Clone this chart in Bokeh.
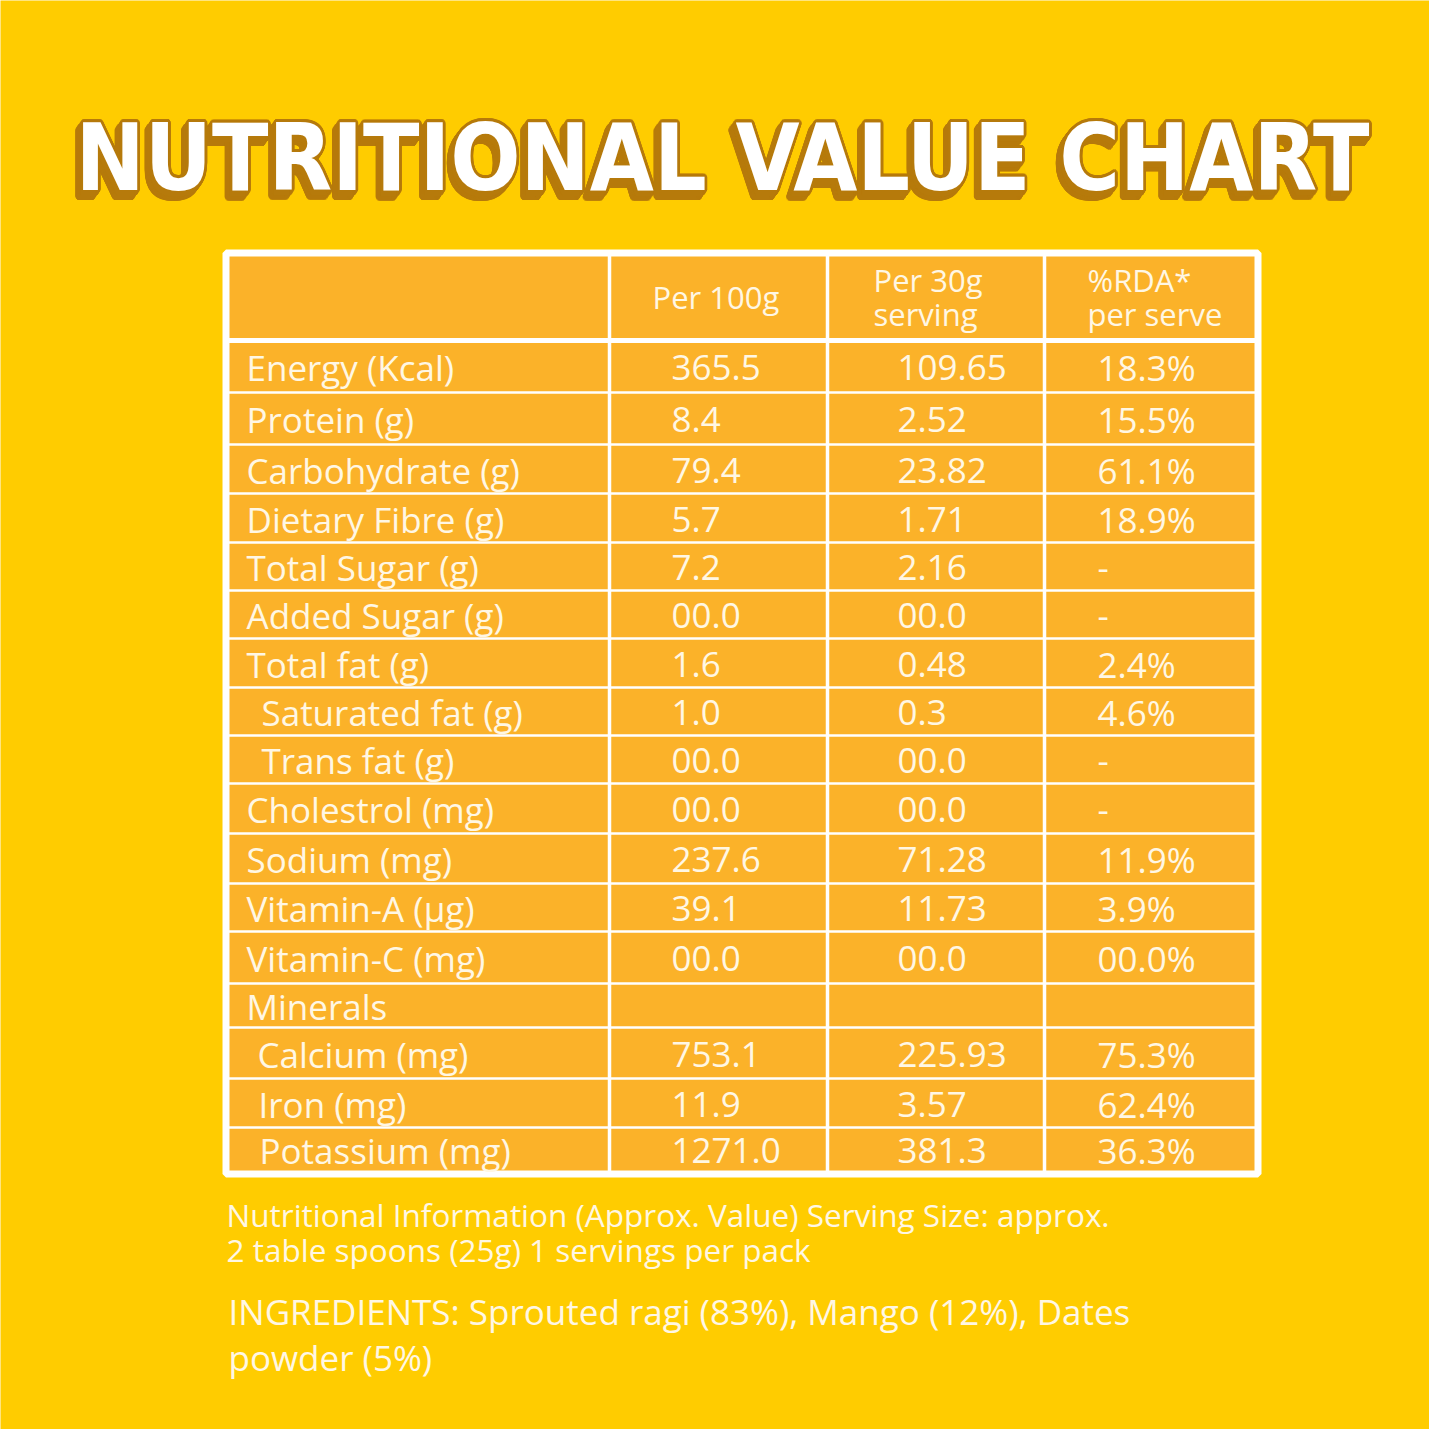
import math
from bokeh.plotting import figure
from bokeh.models import Range1d, ColumnDataSource
from bokeh.core.properties import value
from bokeh.embed import file_html
from bokeh.resources import INLINE

# ---------------- data ----------------
title = "NUTRITIONAL VALUE CHART"
header_col2 = ["Per 100g"]
header_col3 = ["Per 30g", "serving"]
header_col4 = ["%RDA*", "per serve"]

nutrients = ["Energy (Kcal)", "Protein (g)", "Carbohydrate (g)", "Dietary Fibre (g)",
             "Total Sugar (g)", "Added Sugar (g)", "Total fat (g)", "Saturated fat (g)",
             "Trans fat (g)", "Cholestrol (mg)", "Sodium (mg)", "Vitamin-A (µg)",
             "Vitamin-C (mg)", "Minerals", "Calcium (mg)", "Iron (mg)", "Potassium (mg)"]
per_100g = ["365.5", "8.4", "79.4", "5.7", "7.2", "00.0", "1.6", "1.0", "00.0", "00.0",
            "237.6", "39.1", "00.0", "", "753.1", "11.9", "1271.0"]
per_30g = ["109.65", "2.52", "23.82", "1.71", "2.16", "00.0", "0.48", "0.3", "00.0", "00.0",
           "71.28", "11.73", "00.0", "", "225.93", "3.57", "381.3"]
rda = ["18.3%", "15.5%", "61.1%", "18.9%", "-", "-", "2.4%", "4.6%", "-", "-",
       "11.9%", "3.9%", "00.0%", "", "75.3%", "62.4%", "36.3%"]
indented = {"Saturated fat (g)": 15, "Trans fat (g)": 15, "Calcium (mg)": 11,
            "Iron (mg)": 12, "Potassium (mg)": 13}

footnote = ["Nutritional Information (Approx. Value) Serving Size: approx.",
            "2 table spoons (25g) 1 servings per pack"]
ingredients = ["INGREDIENTS: Sprouted ragi (83%), Mango (12%), Dates",
               "powder (5%)"]

# ---------------- layout ----------------
BG = "#FFCC00"
CELL = "#FBB229"
WHITE = "#FFFFFF"
TXT = "#FFF7E4"
BROWN = "#B67A0B"
FONT = "Open Sans"
TITLE_FONT = "DejaVu Sans Condensed"

W = H = 1429
tbl_left, tbl_right, tbl_top, tbl_bottom = 225.5, 1257.5, 252.5, 1173.5
col_lines = [609, 827, 1044]
header_bottom = 340
row_lines = [392, 444, 493, 542, 590, 638, 687, 735, 783, 833, 883, 931, 983, 1027, 1078, 1127]
col_text_x = [246, 671, 897, 1097]

p = figure(width=W, height=H, output_backend="svg", toolbar_location=None,
           x_range=Range1d(0, W), y_range=Range1d(H, 0),
           min_border=0, background_fill_color=BG, border_fill_color=BG,
           outline_line_color=None)
p.axis.visible = False
p.grid.visible = False

# ---- title with outline + shadow ----
tx, ty = 722, 158
xs, ys = [], []
ring = [(2.8 * math.cos(a * math.pi / 8), 2.8 * math.sin(a * math.pi / 8)) for a in range(16)]
for s in [0, 0.25, 0.5, 0.75, 1.0]:
    for dx, dy in ring:
        xs.append(tx + dx - 5 * s)
        ys.append(ty + dy + 7 * s)
p.text(x=xs, y=ys, text=[title] * len(xs), text_font=value(TITLE_FONT),
       text_font_style="bold", text_font_size="92px", text_color=BROWN,
       text_align="center", text_baseline="alphabetic")
p.text(x=[tx], y=[ty], text=[title], text_font=value(TITLE_FONT),
       text_font_style="bold", text_font_size="92px", text_color=WHITE,
       text_align="center", text_baseline="alphabetic")

# ---- table ----
p.quad(left=[tbl_left], right=[tbl_right], top=[tbl_top], bottom=[tbl_bottom],
       fill_color=CELL, line_color=WHITE, line_width=7)
p.segment(x0=col_lines, x1=col_lines, y0=[tbl_top] * 3, y1=[tbl_bottom] * 3,
          line_color=WHITE, line_width=3.5)
p.segment(x0=[tbl_left], x1=[tbl_right], y0=[header_bottom], y1=[header_bottom],
          line_color=WHITE, line_width=5)
p.segment(x0=[tbl_left] * len(row_lines), x1=[tbl_right] * len(row_lines),
          y0=row_lines, y1=row_lines, line_color=WHITE, line_width=2.5)

# header text
hdr_x, hdr_y, hdr_t = [], [], []
hdr_x.append(652); hdr_y.append(296); hdr_t.append(header_col2[0])
for i, t in enumerate(header_col3):
    hdr_x.append(873); hdr_y.append(279 + 34 * i); hdr_t.append(t)
for i, t in enumerate(header_col4):
    hdr_x.append(1087); hdr_y.append(279 + 34 * i); hdr_t.append(t)
p.text(x=hdr_x, y=hdr_y, text=hdr_t, text_font=value(FONT), text_font_size="31px",
       text_color=TXT, text_align="left", text_baseline="middle")

# body rows
edges = [header_bottom] + row_lines + [tbl_bottom - 3]
centers = [(edges[i] + edges[i + 1]) / 2 + 1 for i in range(len(nutrients))]
lab_x = [col_text_x[0] + indented.get(n, 0) for n in nutrients]
src = ColumnDataSource(dict(y=centers, lx=lab_x, lab=nutrients, a=per_100g, b=per_30g, c=rda))
p.text(x="lx", y="y", text="lab", source=src, text_font=value(FONT), text_font_size="35px",
       text_color=TXT, text_align="left", text_baseline="middle")
for xv, tcol in zip(col_text_x[1:], ["a", "b", "c"]):
    p.text(x=xv, y="y", text=tcol, source=src, text_font=value(FONT), text_font_size="35px",
           text_color=TXT, text_align="left", text_baseline="middle")

# footnotes
p.text(x=[226, 226], y=[1214, 1249], text=footnote, text_font=value(FONT),
       text_font_size="31.5px", text_color=TXT, text_align="left", text_baseline="middle")
p.text(x=[228, 228], y=[1311, 1357], text=ingredients, text_font=value(FONT),
       text_font_size="35px", text_color=TXT, text_align="left", text_baseline="middle")

open("out.html", "w").write(file_html(p, INLINE))
